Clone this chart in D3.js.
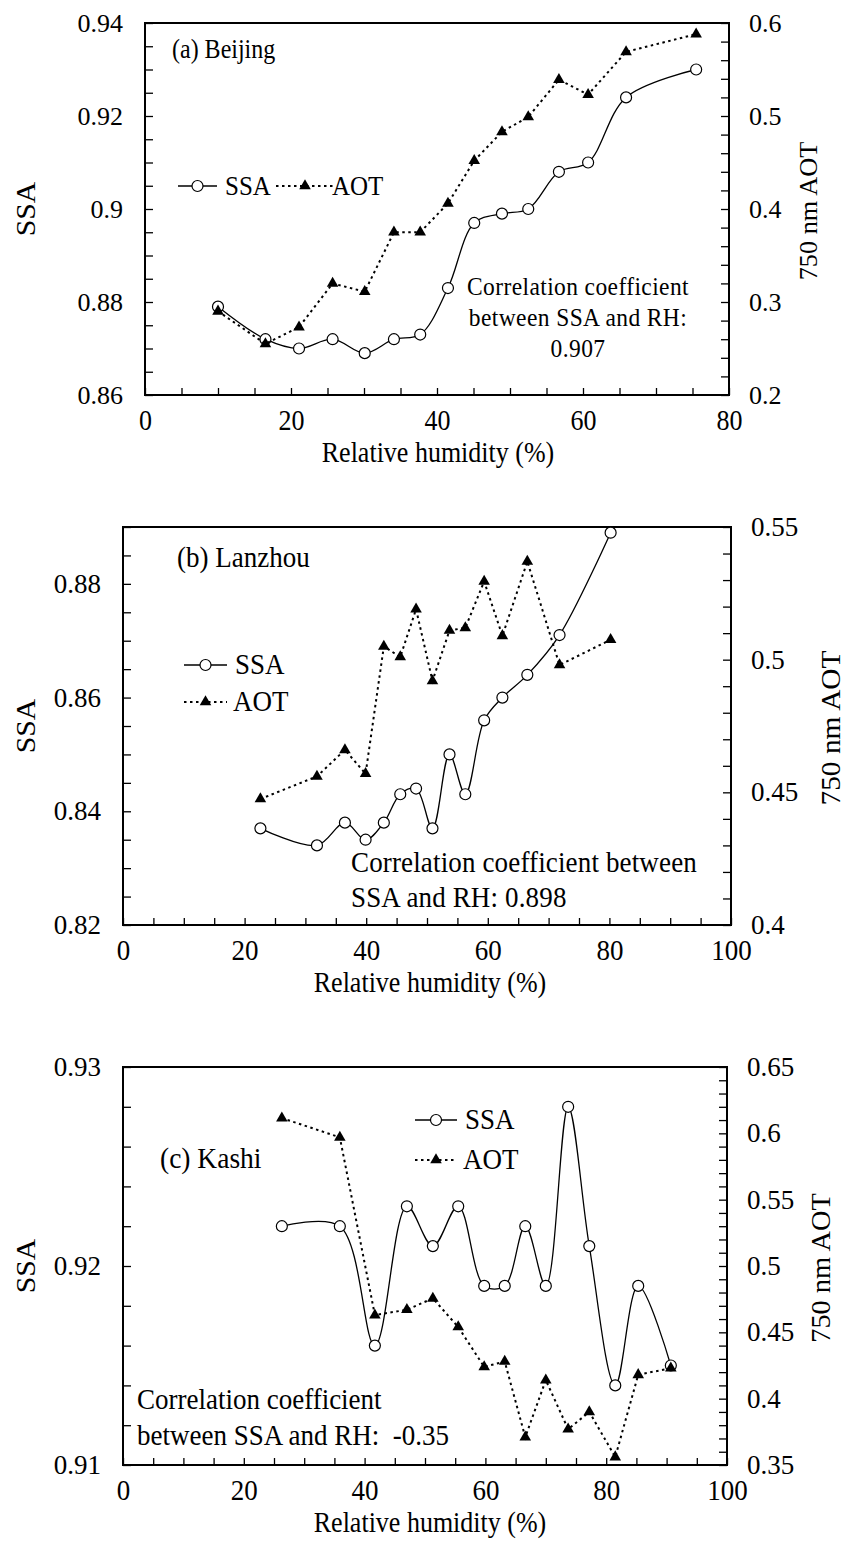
<!DOCTYPE html>
<html>
<head>
<meta charset="utf-8">
<script src="https://cdn.jsdelivr.net/npm/d3@7"></script>
<style>
  body { margin: 0; background: #fff; }
  svg { display: block; }
  text { font-family: "Liberation Serif", "Times New Roman", serif; white-space: pre; }
</style>
</head>
<body>
<svg id="fig" width="845" height="1555"></svg>
<script>
// ---- data ----
// (a) Beijing
var rhA  = [10.0, 16.5, 21.1, 25.7, 30.1, 34.1, 37.7, 41.5, 45.1, 48.9, 52.5, 56.7, 60.7, 65.9, 75.5];
var ssaA = [0.879, 0.872, 0.870, 0.872, 0.869, 0.872, 0.873, 0.883, 0.897, 0.899, 0.900, 0.908, 0.910, 0.924, 0.930];
var aotA = [0.290, 0.255, 0.273, 0.320, 0.311, 0.375, 0.375, 0.406, 0.452, 0.483, 0.499, 0.539, 0.523, 0.569, 0.588];
// (b) Lanzhou
var rhB  = [22.6, 31.9, 36.5, 39.9, 42.9, 45.6, 48.2, 50.9, 53.7, 56.3, 59.4, 62.4, 66.5, 71.8, 80.2];
var ssaB = [0.837, 0.834, 0.838, 0.835, 0.838, 0.843, 0.844, 0.837, 0.850, 0.843, 0.856, 0.860, 0.864, 0.871, 0.889];
var aotB = [0.4475, 0.456, 0.466, 0.457, 0.505, 0.501, 0.519, 0.492, 0.511, 0.512, 0.5295, 0.509, 0.537, 0.498, 0.5075];
// (c) Kashi
var rhC  = [26.3, 35.9, 41.7, 47.0, 51.3, 55.5, 59.8, 63.2, 66.6, 70.0, 73.7, 77.2, 81.5, 85.3, 90.7];
var ssaC = [0.922, 0.922, 0.916, 0.923, 0.921, 0.923, 0.919, 0.919, 0.922, 0.919, 0.928, 0.921, 0.914, 0.919, 0.915];
var aotC = [0.6115, 0.597, 0.463, 0.467, 0.4756, 0.454, 0.424, 0.428, 0.371, 0.414, 0.377, 0.390, 0.356, 0.418, 0.423];

// tick labels
var rhTicksA  = [0, 20, 40, 60, 80];
var rhTicksBC = [0, 20, 40, 60, 80, 100];
var ssaTicksA = [0.86, 0.88, 0.9, 0.92, 0.94];
var aotTicksA = [0.2, 0.3, 0.4, 0.5, 0.6];
var ssaTicksB = [0.82, 0.84, 0.86, 0.88];
var aotTicksB = [0.4, 0.45, 0.5, 0.55];
var ssaTicksC = [0.91, 0.92, 0.93];
var aotTicksC = [0.35, 0.4, 0.45, 0.5, 0.55, 0.6, 0.65];

var FONT = '"Liberation Serif", "Times New Roman", serif';
var svg = d3.select("#fig");

function txt(g, x, y, s, o) {
  o = o || {};
  var tr = "translate(" + x + "," + y + ")";
  if (o.rot) tr += " rotate(" + o.rot + ")";
  tr += " scale(" + (o.sx || 1) + "," + (o.sy || 1) + ")";
  var t = g.append("text")
    .attr("transform", tr)
    .attr("font-family", FONT)
    .attr("font-size", o.size || 26)
    .attr("text-anchor", o.anchor || "start")
    .attr("fill", "#000")
    .text(s);
  if (o.ls) t.attr("letter-spacing", o.ls);
  return t;
}

function steps(dom, step) {
  var n = Math.round((dom[1] - dom[0]) / step);
  return d3.range(n + 1).map(function(i) { return dom[0] + i * step; });
}

function labelFor(majors) {
  return function(v) {
    var m = majors.find(function(k) { return Math.abs(k - v) < 1e-9; });
    return m === undefined ? "" : String(m);
  };
}

function circleMark(g, cx, cy) {
  g.append("circle").attr("cx", cx).attr("cy", cy).attr("r", 5.5)
    .attr("fill", "#fff").attr("stroke", "#000").attr("stroke-width", 1.2);
}
function triMark(g, cx, cy) {
  g.append("path").attr("d", d3.symbol(d3.symbolTriangle, 58)())
    .attr("transform", "translate(" + cx + "," + cy + ")").attr("fill", "#000");
}

function panel(p) {
  var g = svg.append("g");
  var x = d3.scaleLinear().domain(p.xDom).range([p.l, p.r]);
  var y = d3.scaleLinear().domain(p.yDom).range([p.b, p.t]);
  var y2 = d3.scaleLinear().domain(p.y2Dom).range([p.b, p.t]);

  // left axis
  var ga = g.append("g").attr("transform", "translate(" + p.l + ",0)")
    .call(d3.axisLeft(y).tickValues(steps(p.yDom, p.yMinor)).tickSizeInner(-8).tickSizeOuter(0)
      .tickPadding(22).tickFormat(labelFor(p.yTicks)));
  // right axis
  var gb = g.append("g").attr("transform", "translate(" + p.r + ",0)")
    .call(d3.axisRight(y2).tickValues(steps(p.y2Dom, p.y2Minor)).tickSizeInner(-8).tickSizeOuter(0)
      .tickPadding(20).tickFormat(labelFor(p.y2Ticks)));
  // bottom axis
  var gc = g.append("g").attr("transform", "translate(0," + p.b + ")")
    .call(d3.axisBottom(x).tickValues(steps(p.xDom, 5)).tickSizeInner(-7).tickSizeOuter(0)
      .tickFormat(labelFor(p.xTicks)));
  [ga, gb, gc].forEach(function(a) {
    a.attr("font-family", FONT).attr("font-size", null);
    a.select(".domain").remove();
    a.selectAll(".tick line").attr("stroke", "#000").attr("stroke-width", 1.3);
    a.selectAll("text").attr("font-family", FONT).attr("font-size", p.tickSize).attr("fill", "#000");
  });
  gc.selectAll("text").attr("y", null).attr("dy", null)
    .attr("transform", "translate(0,35) scale(1,1.1)");

  // frame
  g.append("rect").attr("x", p.l).attr("y", p.t).attr("width", p.r - p.l).attr("height", p.b - p.t)
    .attr("fill", "none").attr("stroke", "#000").attr("stroke-width", 2);

  var ssaPts = p.rh.map(function(r, i) { return [x(r), y(p.ssa[i])]; });
  var aotPts = p.rh.map(function(r, i) { return [x(r), y2(p.aot[i])]; });

  g.append("path").attr("d", d3.line().curve(d3.curveCatmullRom.alpha(0.5))(ssaPts))
    .attr("fill", "none").attr("stroke", "#000").attr("stroke-width", 1.3);
  ssaPts.forEach(function(d) { circleMark(g, d[0], d[1]); });
  g.append("path").attr("d", d3.line()(aotPts))
    .attr("fill", "none").attr("stroke", "#000").attr("stroke-width", 2).attr("stroke-dasharray", "2.5,3.5");
  aotPts.forEach(function(d) { triMark(g, d[0], d[1]); });

  // legend
  p.legend.forEach(function(L) {
    var line = g.append("line").attr("x1", L.x1).attr("x2", L.x2).attr("y1", L.y).attr("y2", L.y)
      .attr("stroke", "#000");
    if (L.kind === "ssa") {
      line.attr("stroke-width", 1.3);
      circleMark(g, (L.x1 + L.x2) / 2, L.y);
    } else {
      line.attr("stroke-width", 2).attr("stroke-dasharray", "2.5,3.5");
      triMark(g, (L.x1 + L.x2) / 2, L.y);
    }
    txt(g, L.tx, L.y + 9, L.label, { size: p.legSize, sy: 1.1 });
  });

  // texts
  txt(g, p.name[0], p.name[1], p.name[2], { size: p.nameSize, sy: 1.1 });
  p.corr.forEach(function(c) {
    txt(g, c[0], c[1], c[2], { size: p.corrSize, anchor: p.corrAnchor, sy: 1.1, ls: p.corrLs });
  });
  txt(g, 35, (p.t + p.b) / 2, "SSA", { size: 27, anchor: "middle", rot: -90, sx: 1.1 });
  txt(g, p.rtX, (p.t + p.b) / 2 + 2, "750 nm AOT", { size: p.rtSize, anchor: "middle", rot: -90, sx: 1.05 });
  txt(g, p.xtX, p.b + 67, "Relative humidity (%)", { size: 26, anchor: "middle", sy: 1.1 });
}

panel({
  l: 145, r: 729, t: 23, b: 395,
  xDom: [0, 80], xTicks: rhTicksA,
  yDom: [0.86, 0.94], yTicks: ssaTicksA, yMinor: 0.005,
  y2Dom: [0.2, 0.6], y2Ticks: aotTicksA, y2Minor: 0.02,
  rh: rhA, ssa: ssaA, aot: aotA, tickSize: 26,
  legend: [
    { kind: "ssa", x1: 178, x2: 217, y: 186, tx: 225, label: "SSA" },
    { kind: "aot", x1: 276, x2: 334, y: 186, tx: 332, label: "AOT" }
  ],
  legSize: 25,
  name: [172, 58, "(a) Beijing"], nameSize: 24,
  corr: [[578, 295, "Correlation coefficient"], [578, 326, "between SSA and RH:"], [578, 357, "0.907"]],
  corrSize: 23.5, corrAnchor: "middle", corrLs: 0.4,
  rtX: 817, rtSize: 25, xtX: 438
});

panel({
  l: 123, r: 731, t: 527, b: 925,
  xDom: [0, 100], xTicks: rhTicksBC,
  yDom: [0.82, 0.89], yTicks: ssaTicksB, yMinor: 0.005,
  y2Dom: [0.4, 0.55], y2Ticks: aotTicksB, y2Minor: 0.01,
  rh: rhB, ssa: ssaB, aot: aotB, tickSize: 27,
  legend: [
    { kind: "ssa", x1: 184, x2: 227, y: 665, tx: 235, label: "SSA" },
    { kind: "aot", x1: 184, x2: 227, y: 702, tx: 233, label: "AOT" }
  ],
  legSize: 27,
  name: [177, 567, "(b) Lanzhou"], nameSize: 27,
  corr: [[351, 872, "Correlation coefficient between"], [351, 907, "SSA and RH: 0.898"]],
  corrSize: 27, corrAnchor: "start", corrLs: 0.15,
  rtX: 840, rtSize: 28, xtX: 430
});

panel({
  l: 123, r: 727, t: 1067, b: 1465,
  xDom: [0, 100], xTicks: rhTicksBC,
  yDom: [0.91, 0.93], yTicks: ssaTicksC, yMinor: 0.002,
  y2Dom: [0.35, 0.65], y2Ticks: aotTicksC, y2Minor: 0.01,
  rh: rhC, ssa: ssaC, aot: aotC, tickSize: 27,
  legend: [
    { kind: "ssa", x1: 415, x2: 457, y: 1120, tx: 465, label: "SSA" },
    { kind: "aot", x1: 415, x2: 457, y: 1160, tx: 463, label: "AOT" }
  ],
  legSize: 27,
  name: [160, 1168, "(c) Kashi"], nameSize: 27.5,
  corr: [[137, 1409, "Correlation coefficient"], [137, 1445, "between SSA and RH:  -0.35"]],
  corrSize: 27, corrAnchor: "start", corrLs: 0,
  rtX: 830, rtSize: 27, xtX: 430
});
</script>
</body>
</html>
